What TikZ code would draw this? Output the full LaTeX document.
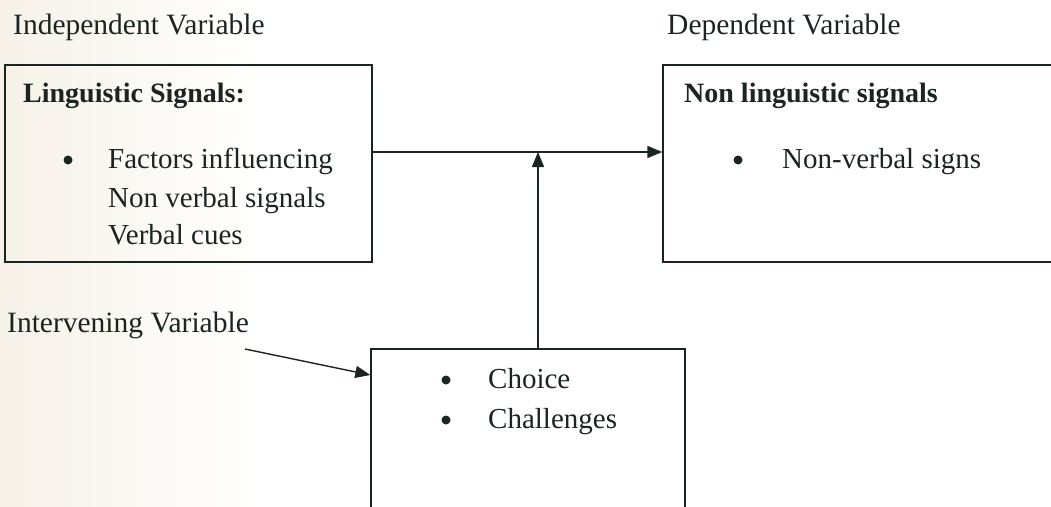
\documentclass[tikz,border=0pt]{standalone}
\usepackage{fontspec}
\setmainfont{Liberation Serif}
\usetikzlibrary{arrows.meta}
\definecolor{ink}{RGB}{28,36,34}
\definecolor{paper}{RGB}{246,242,233}
\begin{document}
\begin{tikzpicture}[x=1pt,y=-1pt,
  txt/.style={anchor=base west,inner sep=0pt,text=ink,font=\fontsize{29}{35}\selectfont},
  hd/.style={anchor=base west,inner sep=0pt,text=ink,font=\fontsize{28}{34}\selectfont\bfseries},
  lbl/.style={anchor=base west,inner sep=0pt,text=ink,font=\fontsize{29.5}{35}\selectfont},
  bul/.style={circle,fill=ink,inner sep=0pt,minimum size=9pt},
  box/.style={draw=ink,line width=1.4pt,rectangle,inner sep=0pt},
  arr/.style={draw=ink,line width=1.4pt,-{Triangle[length=15pt,width=12pt]}}]
\useasboundingbox (0,0) rectangle (1051,506);
\clip (0,0) rectangle (1051,506);
\fill[white] (0,0) rectangle (1051,506);
\shade[left color=paper,right color=white] (0,0) rectangle (260,506);

% boxes
\node[box,minimum width=367pt,minimum height=197pt] (ind) at (188.5,163.5) {};
\node[box,minimum width=457pt,minimum height=197pt] (dep) at (891.5,163.5) {};
\node[box,minimum width=314pt,minimum height=211pt] (bot) at (528,454.5) {};

% headings
\node[lbl] (indlbl) at (13,34) {Independent Variable};
\node[lbl] (deplbl) at (667,34) {Dependent Variable};
\node[lbl] (ivlbl) at (7,332) {Intervening Variable};

% left box content
\node[hd] (lsig) at (23,102) {Linguistic Signals:};
\node[bul] (b1) at (68,160) {};
\node[txt] (f1) at (108,168) {Factors influencing};
\node[txt] (f2) at (108,207) {Non verbal signals};
\node[txt] (f3) at (108,244) {Verbal cues};

% right box content
\node[hd] (nls) at (684,102) {Non linguistic signals};
\node[bul] (b2) at (738,160) {};
\node[txt] (nv) at (782,168) {Non-verbal signs};

% bottom box content
\node[bul] (b3) at (446,380) {};
\node[txt] (c1) at (488,388) {Choice};
\node[bul] (b4) at (446,420) {};
\node[txt] (c2) at (488,428) {Challenges};

% connectors
\coordinate (j) at (538,152);
\coordinate (ivs) at (245,349);
\coordinate (ivt) at (371,375);
\draw[arr] (ind.east |- j) -- (dep.west |- j);
\draw[arr] (j |- bot.north) -- (j);
\draw[arr] (ivs) -- (bot.west |- ivt);
\end{tikzpicture}
\end{document}
